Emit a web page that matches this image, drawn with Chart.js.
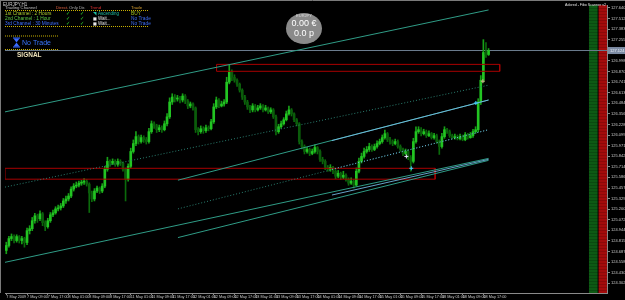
<!DOCTYPE html>
<html><head><meta charset="utf-8">
<script src="https://cdn.jsdelivr.net/npm/chart.js@4.4.1/dist/chart.umd.min.js"></script>
<style>html,body{margin:0;padding:0;background:#000;overflow:hidden}canvas{display:block}</style>
</head><body><canvas id="c" width="625" height="300"></canvas>
<script>
// ---------- DATA ----------
const symbolLabel = 'EURJPY,H1';
const xTickLabels = ['7 May 2009','7 May 09:00','7 May 17:00','8 May 01:00','8 May 09:00','8 May 17:00','11 May 01:00','11 May 09:00','11 May 17:00','12 May 01:00','12 May 09:00','12 May 17:00','13 May 01:00','13 May 09:00','13 May 17:00','14 May 01:00','14 May 09:00','14 May 17:00','15 May 01:00','15 May 09:00','15 May 17:00','18 May 01:00','18 May 09:00','18 May 17:00'];
const xTickBars = [0,8,16,24,32,40,48,56,64,72,80,88,96,104,112,120,128,136,144,152,160,168,176,184];
const yTickValues = [127.640,127.512,127.383,127.255,127.126,126.998,126.870,126.741,126.613,126.484,126.356,126.228,126.099,125.971,125.842,125.714,125.586,125.457,125.329,125.200,125.072,124.944,124.815,124.687,124.558,124.430,124.302];
const yMin = 124.184, yMax = 127.676;
const xMin = -0.5, xMax = 231.68;
const currentPrice = 127.124;

const open = [
124.70,124.76,124.844,124.868,124.82,124.868,124.82,124.844,124.796,124.94,
124.964,125.06,125.12,125.084,125.144,125.036,124.988,125.06,125.132,125.156,
125.204,125.216,125.24,125.30,125.324,125.36,125.444,125.48,125.492,125.516,
125.528,125.54,125.504,125.396,125.324,125.42,125.456,125.42,125.48,125.684,
125.78,125.756,125.78,125.744,125.78,125.756,125.684,125.564,125.72,125.90,
125.996,126.08,126.02,126.068,126.044,126.02,126.14,126.236,126.212,126.164,
126.188,126.164,126.236,126.32,126.50,126.56,126.536,126.548,126.524,126.572,
126.512,126.452,126.476,126.428,126.164,126.14,126.176,126.152,126.188,126.176,
126.26,126.44,126.524,126.452,126.476,126.50,126.74,126.86,126.80,126.764,
126.716,126.644,126.56,126.50,126.44,126.404,126.452,126.404,126.428,126.452,
126.404,126.428,126.38,126.404,126.32,126.14,126.20,126.236,126.284,126.356,
126.404,126.356,126.284,126.236,126.02,125.96,125.90,125.924,125.876,125.90,
125.948,125.90,125.804,125.78,125.708,125.684,125.708,125.66,125.60,125.636,
125.588,125.612,125.564,125.516,125.54,125.492,125.66,125.78,125.84,125.90,
125.924,125.96,125.924,125.96,125.996,126.02,126.068,126.116,126.044,126.02,
125.996,126.02,125.96,125.924,125.876,125.90,125.828,125.78,126.02,126.14,
126.164,126.116,126.14,126.092,126.116,126.068,126.092,126.02,125.96,126.08,
126.164,126.14,126.092,126.068,126.08,126.056,126.08,126.044,126.104,126.068,
126.092,126.14,126.164,126.50,126.764,127.10,127.076];
const close = [
124.76,124.844,124.868,124.82,124.868,124.82,124.844,124.796,124.94,124.964,
125.06,125.12,125.084,125.144,125.036,124.988,125.06,125.132,125.156,125.204,
125.216,125.24,125.30,125.324,125.36,125.444,125.48,125.492,125.516,125.528,
125.54,125.504,125.396,125.324,125.42,125.456,125.42,125.48,125.684,125.78,
125.756,125.78,125.744,125.78,125.756,125.684,125.564,125.72,125.90,125.996,
126.08,126.02,126.068,126.044,126.02,126.14,126.236,126.212,126.164,126.188,
126.164,126.236,126.32,126.50,126.56,126.536,126.548,126.524,126.572,126.512,
126.452,126.476,126.428,126.164,126.14,126.176,126.152,126.188,126.176,126.26,
126.44,126.524,126.452,126.476,126.50,126.74,126.86,126.80,126.764,126.716,
126.644,126.56,126.50,126.44,126.404,126.452,126.404,126.428,126.452,126.404,
126.428,126.38,126.404,126.32,126.14,126.20,126.236,126.284,126.356,126.404,
126.356,126.284,126.236,126.02,125.96,125.90,125.924,125.876,125.90,125.948,
125.90,125.804,125.78,125.708,125.684,125.708,125.66,125.60,125.636,125.588,
125.612,125.564,125.516,125.54,125.492,125.66,125.78,125.84,125.90,125.924,
125.96,125.924,125.96,125.996,126.02,126.068,126.116,126.044,126.02,125.996,
126.02,125.96,125.924,125.876,125.90,125.828,125.78,126.02,126.14,126.164,
126.116,126.14,126.092,126.116,126.068,126.092,126.02,125.96,126.08,126.164,
126.14,126.092,126.068,126.08,126.056,126.08,126.044,126.104,126.068,126.092,
126.14,126.164,126.50,126.764,127.10,127.076,127.124];
const high = [
124.80,124.87,124.90,124.89,124.89,124.88,124.87,124.86,124.97,125.00,
125.10,125.15,125.14,125.18,125.16,125.06,125.09,125.16,125.19,125.23,
125.25,125.27,125.33,125.36,125.39,125.47,125.51,125.53,125.54,125.55,
125.57,125.56,125.52,125.42,125.45,125.48,125.47,125.51,125.72,125.83,
125.80,125.81,125.80,125.81,125.80,125.77,125.70,125.75,125.94,126.04,
126.14,126.10,126.10,126.09,126.07,126.18,126.27,126.26,126.23,126.22,
126.21,126.27,126.36,126.55,126.60,126.59,126.58,126.57,126.60,126.59,
126.53,126.50,126.49,126.44,126.19,126.21,126.20,126.22,126.21,126.29,
126.48,126.56,126.54,126.51,126.53,126.80,126.956,126.89,126.83,126.78,
126.73,126.66,126.58,126.52,126.46,126.48,126.47,126.46,126.48,126.47,
126.46,126.44,126.43,126.42,126.34,126.23,126.27,126.31,126.39,126.45,
126.42,126.37,126.30,126.25,126.04,125.98,125.95,125.94,125.93,125.98,
125.96,125.92,125.83,125.80,125.73,125.74,125.72,125.68,125.67,125.65,
125.66,125.63,125.58,125.58,125.56,125.70,125.82,125.88,125.94,125.96,
126.00,125.98,125.99,126.03,126.05,126.10,126.16,126.13,126.07,126.04,
126.05,126.04,125.98,125.94,125.93,125.92,125.85,126.06,126.20,126.20,
126.19,126.17,126.16,126.15,126.13,126.12,126.11,126.04,126.12,126.20,
126.18,126.16,126.11,126.11,126.10,126.11,126.10,126.13,126.12,126.13,
126.17,126.20,126.54,126.82,127.256,127.22,127.148];
const low = [
124.66,124.74,124.82,124.79,124.80,124.79,124.78,124.74,124.77,124.90,
124.94,125.03,125.04,125.06,125.00,124.94,124.97,125.04,125.11,125.14,
125.18,125.19,125.22,125.27,125.30,125.34,125.42,125.46,125.47,125.49,
125.50,125.48,125.16,125.29,125.30,125.40,125.39,125.40,125.46,125.66,
125.72,125.74,125.72,125.72,125.73,125.66,125.30,125.54,125.70,125.88,
125.97,125.99,126.00,126.01,125.99,126.00,126.12,126.18,126.13,126.14,
126.13,126.15,126.21,126.30,126.47,126.50,126.51,126.49,126.50,126.48,
126.42,126.43,126.40,126.13,126.10,126.12,126.12,126.13,126.15,126.16,
126.24,126.42,126.43,126.44,126.45,126.48,126.72,126.76,126.74,126.69,
126.62,126.53,126.47,126.41,126.37,126.38,126.38,126.39,126.41,126.38,
126.39,126.36,126.36,126.30,126.10,126.12,126.18,126.22,126.27,126.34,
126.33,126.26,126.21,125.99,125.93,125.87,125.88,125.85,125.86,125.88,
125.87,125.78,125.75,125.68,125.66,125.66,125.63,125.57,125.58,125.56,
125.57,125.54,125.49,125.50,125.456,125.48,125.64,125.76,125.82,125.88,
125.90,125.90,125.91,125.94,125.98,126.00,126.05,126.02,125.99,125.97,
125.98,125.94,125.90,125.85,125.86,125.80,125.66,125.76,126.00,126.12,
126.09,126.10,126.07,126.08,126.05,126.05,126.00,125.864,125.94,126.06,
126.12,126.07,126.05,126.05,126.04,126.04,126.03,126.03,126.05,126.06,
126.07,126.12,126.14,126.47,126.74,127.04,127.064];

// trend channels: [startBar, startPrice, endBar, endPrice]
const channel1Upper = [-0.5, 126.38, 186, 127.616];
const channel1Mid   = [-0.5, 125.468, 186, 126.704];
const channel1Lower = [-0.5, 124.556, 186, 125.816];
const channel2Upper = [66.2, 125.552, 186, 126.524];
const channel2Mid   = [66.2, 125.204, 186, 126.164];
const channel2Lower = [66.2, 124.856, 186, 125.792];
const channel3Upper = [125.6, 126.032, 186, 126.524];
const channel3Mid   = [125.6, 125.684, 186, 126.164];
const channel3Lower = [125.6, 125.372, 186, 125.804];
// zones: [leftBar, rightBar, topPrice, bottomPrice]
const zoneUpper = [81.1, 190.3, 126.956, 126.872];
const zoneLower = [-0.5, 165.4, 125.696, 125.564];
// signal markers
const sigBars   = [154.3, 156.2, 181.1, 183.8];
const sigPrices = [125.84, 125.696, 126.488, 126.752];
// right-hand indicator strips (bar position)
const stripBars = [226.4, 230.1];

// ---------- CHART ----------
const idx = close.map((_, i) => i);
const bullBody = '#22c422', bearBody = '#0b5c0b', bullWick = '#17a017', bearWick = '#0b6a0b';
const isBull = idx.map(i => close[i] >= open[i]);

function seg(a){ return [{x:a[0], y:a[1]}, {x:a[2], y:a[3]}]; }
function rect(z){ return [{x:z[0],y:z[2]},{x:z[1],y:z[2]},{x:z[1],y:z[3]},{x:z[0],y:z[3]},{x:z[0],y:z[2]}]; }
function lineDs(data, color, dash, order, width){
  return {type:'line', data, borderColor:color, borderWidth:width||1, borderDash:dash||[], pointRadius:0, fill:false, tension:0, order:order||5};
}
function stripePattern(base, dark){
  const pc = document.createElement('canvas'); pc.width = 8; pc.height = 3;
  const g = pc.getContext('2d'); g.fillStyle = base; g.fillRect(0,0,8,3);
  g.fillStyle = dark; g.fillRect(0,2,8,1);
  return g.createPattern(pc, 'repeat');
}
const ctx = document.getElementById('c').getContext('2d');

const teal = '#2f9c86', tealDim = '#2a7f70', lightBlue = 'rgba(120,190,235,0.85)';
const zeroPad = s => { s.paddingLeft = 0; s.paddingRight = 0; s.paddingTop = 0; s.paddingBottom = 0; };

const overlay = {
  id: 'overlay',
  afterDraw(chart){
    const c = chart.ctx, ys = chart.scales.y;
    c.save();
    c.strokeStyle = '#7a7a7a'; c.lineWidth = 1;
    c.beginPath(); c.moveTo(0,0.5); c.lineTo(625,0.5); c.moveTo(0.5,0); c.lineTo(0.5,293); c.stroke();
    const py = ys.getPixelForValue(currentPrice);
    c.fillStyle = '#7d8ca4'; c.fillRect(608, py-3.5, 17, 7);
    c.fillStyle = '#eef2fa'; c.font = '4px "Liberation Sans"'; c.textBaseline = 'middle'; c.textAlign = 'left';
    c.fillText(currentPrice.toFixed(3), 610, py);

    const T = (txt, x, y, size, color, bold, family) => {
      c.font = (bold ? 'bold ' : '') + size + 'px ' + (family || '"Liberation Sans"');
      c.fillStyle = color; c.textAlign = 'left'; c.textBaseline = 'middle';
      c.fillText(txt, x, y);
    };
    const dots = (x0, x1, y) => {
      c.save(); c.strokeStyle = '#c8b000'; c.setLineDash([1,1]); c.lineWidth = 1;
      c.beginPath(); c.moveTo(x0, y); c.lineTo(x1, y); c.stroke(); c.restore();
    };
    T(symbolLabel, 3, 4.5, 4.5, '#d0d0d0');
    T('Trading Channel', 5, 8, 4.3, '#c0c0c0');
    T('Direct.', 56, 8, 4.3, '#e06040');
    T('Only Dir.', 69, 8, 4.3, '#b0b0b0');
    T('Trend', 90, 8, 4.3, '#e03030');
    T('Trade', 131, 8, 4.3, '#d8a030');
    dots(5, 148, 10.5);
    const rows = [['1st Channel : 2 Hours', '#a8c830'], ['2nd Channel : 1 Hour', '#5cc848'], ['3rd Channel : 30 Minutes', '#4070ff']];
    rows.forEach((r, k) => {
      const y = 13.7 + k * 5;
      T(r[0], 5, y, 4.8, r[1]);
      T('\u2713', 66, y, 5, '#2ed82e', true, '"DejaVu Sans"');
      T('\u2713', 80, y, 5, '#2ed82e', true, '"DejaVu Sans"');
      if (k === 0) {
        T('\u25E5', 93, y, 4.5, '#1fbfa0', false, '"DejaVu Sans"');
        T('Ascending', 98, y, 4.5, '#1fbfa0');
        T('BUY', 131, y, 4.8, '#a0c020');
      } else {
        T('\u25A0', 93, y, 4, '#e8e8e8', false, '"DejaVu Sans"');
        T('Wait...', 98, y, 4.5, '#e0e0e0');
        T('No Trade', 131, y, 4.8, '#3c6cf0');
      }
    });
    dots(5, 148, 26.5);
    dots(5, 59, 36);
    c.fillStyle = '#3b6cff';
    c.beginPath(); c.moveTo(13.5,38.5); c.lineTo(19.5,38.5); c.lineTo(16.5,42.5); c.closePath(); c.fill();
    c.beginPath(); c.moveTo(13.5,46.5); c.lineTo(19.5,46.5); c.lineTo(16.5,42.5); c.closePath(); c.fill();
    c.fillRect(13,37.5,7,1); c.fillRect(13,46.5,7,1);
    T('No Trade', 22, 43.5, 7, '#3b78ff');
    dots(5, 59, 49.5);
    T('SIGNAL', 17, 55.5, 6.5, '#ece0b8', true);
    c.fillStyle = 'rgba(150,150,150,0.92)';
    c.beginPath(); c.ellipse(304, 28.5, 18, 15.5, 0, 0, Math.PI*2); c.fill();
    c.textAlign = 'center';
    c.fillStyle = '#dcdcdc'; c.font = '4px "Liberation Sans"'; c.fillText('EURJPY', 304, 16);
    c.fillStyle = '#ffffff'; c.font = '9px "Liberation Sans"'; c.fillText('0.00 \u20AC', 304, 23.5);
    c.fillText('0.0 p', 304, 33.5);
    c.textAlign = 'right'; c.font = '3.6px "Liberation Sans"'; c.fillStyle = '#e0e0e0';
    c.fillText('Adored - Fibo Scanner v2', 606, 5);
    c.restore();
  }
};

new Chart(ctx, {
  data: { datasets: [
    {type:'bar', data:[{x:stripBars[0], y:[yMin, yMax]}], backgroundColor: stripePattern('#0d5a14', '#0a4a10'), barThickness:8, grouped:false, order:100},
    {type:'bar', data:[{x:stripBars[1], y:[yMin, yMax]}], backgroundColor: stripePattern('#a30b0b', '#8c0808'), barThickness:8, grouped:false, order:100},
    {type:'bar', data: idx.map(i => ({x:i, y:[low[i], high[i]]})), backgroundColor: idx.map(i => isBull[i] ? bullWick : bearWick), barThickness:1, grouped:false, order:30},
    {type:'bar', data: idx.map(i => ({x:i, y:[Math.min(open[i],close[i]), Math.max(open[i],close[i])]})), backgroundColor: idx.map(i => isBull[i] ? bullBody : bearBody), barThickness:2, minBarLength:1, grouped:false, order:25},
    lineDs([{x:xMin, y:currentPrice}, {x:xMax, y:currentPrice}], '#6b7c8e', [], 40),
    lineDs(rect(zoneUpper), '#a80000', [], 8),
    lineDs(rect(zoneLower), '#a80000', [], 8),
    lineDs(seg(channel1Upper), teal, [], 6),
    lineDs(seg(channel1Mid), tealDim, [1,2], 6),
    lineDs(seg(channel1Lower), teal, [], 6),
    lineDs(seg(channel2Upper), teal, [], 6),
    lineDs(seg(channel2Mid), tealDim, [1,2], 6),
    lineDs(seg(channel2Lower), teal, [], 6),
    lineDs(seg(channel3Upper), lightBlue, [], 4),
    lineDs(seg(channel3Mid), lightBlue, [1,2], 4),
    lineDs(seg(channel3Lower), lightBlue, [], 4),
    {type:'scatter', data: sigBars.map((b, k) => ({x:b, y:sigPrices[k]})), pointStyle:'cross', pointRadius:2, borderWidth:1,
      borderColor:['#e8e8ff','#40d0ff','#40d0ff','#d8b090'], backgroundColor:'transparent', order:1}
  ]},
  options: {
    responsive:false, animation:false, devicePixelRatio:1,
    layout:{padding:{top:2, left:1, right:0, bottom:0}},
    plugins:{legend:{display:false}, tooltip:{enabled:false}},
    scales:{
      x:{type:'linear', min:xMin, max:xMax, position:'bottom', offset:false,
        afterBuildTicks: s => { s.ticks = xTickBars.map(v => ({value:v})); },
        afterFit: s => { s.height = 7; zeroPad(s); },
        grid:{offset:false, drawOnChartArea:false, drawTicks:true, tickLength:2, color:'#8a8a8a'},
        border:{display:true, color:'#8a8a8a'},
        ticks:{autoSkip:false, maxRotation:0, minRotation:0, align:'start', padding:0, color:'#c8c8c8',
          font:{family:'Liberation Sans', size:3.8}, callback:(v, i) => xTickLabels[i]}
      },
      y:{type:'linear', position:'right', min:yMin, max:yMax,
        afterBuildTicks: s => { s.ticks = yTickValues.map(v => ({value:v})); },
        afterFit: s => { s.width = 18; zeroPad(s); },
        grid:{drawOnChartArea:false, drawTicks:true, tickLength:3, color:'#8a8a8a'},
        border:{display:true, color:'#8a8a8a'},
        ticks:{autoSkip:false, padding:1, color:'#c8c8c8', font:{family:'Liberation Sans', size:4},
          callback: v => Number(v).toFixed(3)}
      }
    }
  },
  plugins:[overlay]
});
</script>
</body></html>
